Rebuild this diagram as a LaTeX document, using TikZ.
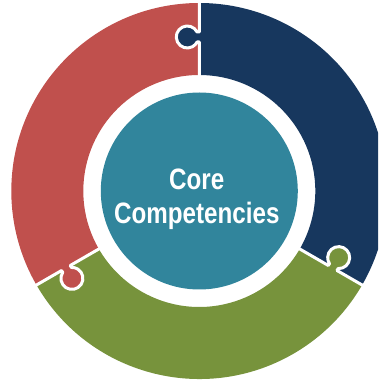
\documentclass[tikz,border=0pt]{standalone}
\usepackage{fontspec}
\newfontfamily\corefont[FakeStretch=0.82]{Liberation Sans}
\definecolor{corered}{HTML}{C0504D}
\definecolor{coreblue}{HTML}{17375E}
\definecolor{coregreen}{HTML}{77933C}
\definecolor{coreteal}{HTML}{31859C}

\begin{document}
\begin{tikzpicture}[x=1pt,y=1pt,
    seam/.style={draw=white, line width=3pt, line join=round},
    hub/.style={circle, fill=coreteal, minimum size=197pt, inner sep=0pt},
    hubtext/.style={text=white, align=center,
        font=\corefont\bfseries\fontsize{29.5}{34}\selectfont}]
    \useasboundingbox (0,0) rectangle (378,380);
    \clip (0,0) rectangle (378,380);

    \begin{scope}[shift={(199.3,189)}]
    % the three pieces of the ring
    \fill[color=coreblue] (-30:188) arc[start angle=-30, end angle=90, radius=188]
        -- (90:116) arc[start angle=90, end angle=-30, radius=116] -- cycle;
    \fill[color=corered] (90:188) arc[start angle=90, end angle=210, radius=188]
        -- (210:116) arc[start angle=210, end angle=90, radius=116] -- cycle;
    \fill[color=coregreen] (210:188) arc[start angle=210, end angle=330, radius=188]
        -- (330:116) arc[start angle=330, end angle=210, radius=116] -- cycle;

    % knobs and seams
    \foreach \a/\col in {90/coreblue, -30/coregreen, 210/corered} {
        \begin{scope}[rotate=\a]
            \fill[color=\col] (159,-2) -- (159,2.2)
                arc[start angle=-63, end angle=243, radius=11]
                -- (149,-2) -- cycle;
            \draw[seam] (192,0) -- (159,0) -- (159,2.2)
                arc[start angle=-63, end angle=243, radius=11]
                -- (149,0) -- (112,0);
        \end{scope}
    }

    \node[hub] (core) at (0,0) {};
    \node[hubtext] (label) at (-2.5,-8) {Core\\Competencies};
    \end{scope}
\end{tikzpicture}
\end{document}
